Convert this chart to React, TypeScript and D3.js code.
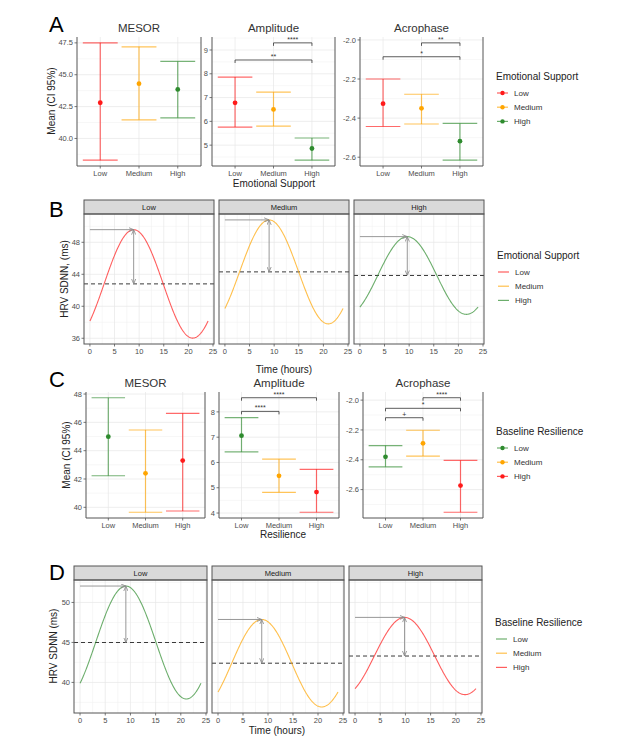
import * as d3 from 'd3'

const FONT = '"Liberation Sans", Arial, sans-serif'

const groups = ['Low', 'Medium', 'High']
const supportColors = ['#ff1a1a', '#ffa500', '#2e8b2e']
const resilienceColors = ['#2e8b2e', '#ffa500', '#ff1a1a']

// A: emotional support, cosinor estimates with 95% CI
const supMesor = [42.8, 44.3, 43.85]
const supMesorLo = [38.3, 41.46, 41.62]
const supMesorHi = [47.5, 47.19, 46.04]
const supAmp = [6.78, 6.5, 4.86]
const supAmpLo = [5.76, 5.8, 4.37]
const supAmpHi = [7.86, 7.23, 5.3]
const supAcro = [-2.326, -2.35, -2.518]
const supAcroLo = [-2.443, -2.43, -2.615]
const supAcroHi = [-2.2, -2.278, -2.427]
const supAmpSig = [
  { from: 'Medium', to: 'High', y: 9.3, label: '****' },
  { from: 'Low', to: 'High', y: 8.58, label: '**' },
]
const supAcroSig = [
  { from: 'Medium', to: 'High', y: -2.015, label: '**' },
  { from: 'Low', to: 'High', y: -2.086, label: '*' },
]

// C: baseline resilience
const resMesor = [44.99, 42.4, 43.3]
const resMesorLo = [42.23, 39.65, 39.74]
const resMesorHi = [47.74, 45.46, 46.64]
const resAmp = [7.06, 5.47, 4.83]
const resAmpLo = [6.42, 4.82, 4.03]
const resAmpHi = [7.77, 6.13, 5.73]
const resAcro = [-2.38, -2.29, -2.573]
const resAcroLo = [-2.447, -2.375, -2.752]
const resAcroHi = [-2.305, -2.202, -2.404]
const resAmpSig = [
  { from: 'Low', to: 'High', y: 8.56, label: '****' },
  { from: 'Low', to: 'Medium', y: 8.02, label: '****' },
]
const resAcroSig = [
  { from: 'Medium', to: 'High', y: -1.984, label: '****' },
  { from: 'Low', to: 'High', y: -2.055, label: '*' },
  { from: 'Low', to: 'Medium', y: -2.118, label: '+' },
]

const mesorTicksA = [40, 42.5, 45, 47.5]
const ampTicksA = [5, 6, 7, 8, 9]
const acroTicks = [-2.6, -2.4, -2.2, -2.0]
const mesorTicksC = [40, 42, 44, 46, 48]
const ampTicksC = [4, 5, 6, 7, 8]
const hourTicks = [0, 5, 10, 15, 20, 25]
const hrvTicksB = [36, 40, 44, 48]
const hrvTicksD = [40, 45, 50]
// time grid on which the fitted cosinor (mesor + amp * cos(2*pi*t/24 + acrophase)) is drawn
const hours = d3.range(0, 24.001, 0.1)

const AXIS = '#555'
const TICKTXT = '#4d4d4d'
const GRID = '#e6e6e6'
const GRID_MINOR = '#f2f2f2'

function minorBreaks(ticks: number[], dom: number[]) {
  const step = ticks[1] - ticks[0]
  const out: number[] = []
  for (let i = -1; i < ticks.length; i++) {
    const v = ticks[0] + step * (i + 0.5)
    if (v > Math.min(dom[0], dom[1]) && v < Math.max(dom[0], dom[1])) out.push(v)
  }
  return out
}

interface Sig { from: string; to: string; y: number; label: string }

function ErrorPanel({ x0, x1, top, bottom, title, mean, lo, hi, colors, ticks, digits, sig }: {
  x0: number; x1: number; top: number; bottom: number; title: string
  mean: number[]; lo: number[]; hi: number[]; colors: string[]; ticks: number[]; digits: number; sig: Sig[]
}) {
  const [mn, mx] = d3.extent([...lo, ...hi, ...sig.map(s => s.y)]) as [number, number]
  const pad = (mx - mn) * 0.05
  const y = d3.scaleLinear().domain([mn - pad, mx + pad]).range([bottom, top])
  const x = d3.scalePoint<string>().domain(groups).range([x0, x1]).padding(0.6)
  const half = x.step() * 0.45
  const minor = minorBreaks(ticks, y.domain())

  return (
    <g>
      {minor.map(v => (
        <line key={'m' + v} x1={x0} x2={x1} y1={y(v)} y2={y(v)} stroke={GRID_MINOR} strokeWidth={0.6} />
      ))}
      {ticks.map(v => (
        <line key={'g' + v} x1={x0} x2={x1} y1={y(v)} y2={y(v)} stroke={GRID} strokeWidth={0.7} />
      ))}
      {groups.map(g => (
        <line key={'v' + g} x1={x(g)} x2={x(g)} y1={top} y2={bottom} stroke={GRID} strokeWidth={0.7} />
      ))}
      <path d={`M${x0},${top}V${bottom}H${x1}V${top}`} fill="none" stroke={AXIS} strokeWidth={1} />
      {ticks.map(v => (
        <g key={'t' + v}>
          <line x1={x0 - 2.5} x2={x0} y1={y(v)} y2={y(v)} stroke={AXIS} strokeWidth={0.8} />
          <text x={x0 - 4} y={y(v)} dy="0.35em" textAnchor="end" fontSize={7.5} fill={TICKTXT}>
            {v.toFixed(digits)}
          </text>
        </g>
      ))}
      {groups.map(g => (
        <g key={'x' + g}>
          <line x1={x(g)} x2={x(g)} y1={bottom} y2={bottom + 2.5} stroke={AXIS} strokeWidth={0.8} />
          <text x={x(g)} y={bottom + 7} dy="0.35em" textAnchor="middle" fontSize={7.5} fill={TICKTXT}>{g}</text>
        </g>
      ))}
      {groups.map((g, i) => {
        const cx = x(g) as number
        return (
          <g key={'e' + g}>
            <g stroke={colors[i]} strokeOpacity={0.65} strokeWidth={1.2}>
              <line x1={cx} x2={cx} y1={y(lo[i])} y2={y(hi[i])} />
              <line x1={cx - half} x2={cx + half} y1={y(lo[i])} y2={y(lo[i])} />
              <line x1={cx - half} x2={cx + half} y1={y(hi[i])} y2={y(hi[i])} />
            </g>
            <circle cx={cx} cy={y(mean[i])} r={2.4} fill={colors[i]} />
          </g>
        )
      })}
      {sig.map(s => {
        const a = x(s.from) as number
        const b = x(s.to) as number
        const yy = y(s.y)
        return (
          <g key={s.from + s.to}>
            <path d={`M${a},${yy + 3}V${yy}H${b}V${yy + 3}`} fill="none" stroke="#333" strokeWidth={0.8} />
            <text x={(a + b) / 2} y={yy - 1} textAnchor="middle" fontSize={7} fill="#333">{s.label}</text>
          </g>
        )
      })}
      <text x={(x0 + x1) / 2} y={top - 5} textAnchor="middle" fontSize={11.5} fill="#333">{title}</text>
    </g>
  )
}

function CurveRow({ facets, stripTop, stripBottom, bottom, mesor, amp, acro, colors, yTicks }: {
  facets: [number, number][]; stripTop: number; stripBottom: number; bottom: number
  mesor: number[]; amp: number[]; acro: number[]; colors: string[]; yTicks: number[]
}) {
  const curves = groups.map((_, i) =>
    hours.map(t => [t, mesor[i] + amp[i] * Math.cos((2 * Math.PI * t) / 24 + acro[i])] as [number, number]))
  const [mn, mx] = d3.extent(curves.flat().map(d => d[1])) as [number, number]
  const pad = (mx - mn) * 0.05
  const y = d3.scaleLinear().domain([mn - pad, mx + pad]).range([bottom, stripBottom])
  const [h0, h1] = d3.extent(hours) as [number, number]
  const hp = (h1 - h0) * 0.05
  const minorY = minorBreaks(yTicks, y.domain())

  return (
    <g>
      {facets.map(([x0, x1], i) => {
        const x = d3.scaleLinear().domain([h0 - hp, h1 + hp]).range([x0, x1])
        const minorX = minorBreaks(hourTicks, x.domain())
        const line = d3.line<[number, number]>().x(d => x(d[0])).y(d => y(d[1]))
        const tp = (-acro[i] * 24) / (2 * Math.PI)
        const peak = mesor[i] + amp[i]
        return (
          <g key={groups[i]}>
            {minorY.map(v => (
              <line key={'my' + v} x1={x0} x2={x1} y1={y(v)} y2={y(v)} stroke={GRID_MINOR} strokeWidth={0.6} />
            ))}
            {minorX.map(v => (
              <line key={'mx' + v} x1={x(v)} x2={x(v)} y1={stripBottom} y2={bottom} stroke={GRID_MINOR} strokeWidth={0.6} />
            ))}
            {yTicks.map(v => (
              <line key={'gy' + v} x1={x0} x2={x1} y1={y(v)} y2={y(v)} stroke={GRID} strokeWidth={0.7} />
            ))}
            {hourTicks.map(v => (
              <line key={'gx' + v} x1={x(v)} x2={x(v)} y1={stripBottom} y2={bottom} stroke={GRID} strokeWidth={0.7} />
            ))}
            <line x1={x0} x2={x1} y1={y(mesor[i])} y2={y(mesor[i])} stroke="#3a3a3a" strokeWidth={1} strokeDasharray="4,3" />
            <path d={line(curves[i]) || ''} fill="none" stroke={colors[i]} strokeOpacity={0.7} strokeWidth={1.1} />
            <g stroke="#8c8c8c" strokeWidth={0.9}>
              <line x1={x(0)} x2={x(tp)} y1={y(peak)} y2={y(peak)} markerEnd="url(#arr)" />
              <line x1={x(tp)} x2={x(tp)} y1={y(peak)} y2={y(mesor[i])} markerStart="url(#arr)" markerEnd="url(#arr)" />
            </g>
            <rect x={x0} y={stripTop} width={x1 - x0} height={stripBottom - stripTop} fill="#d9d9d9" stroke={AXIS} strokeWidth={1} />
            <rect x={x0} y={stripBottom} width={x1 - x0} height={bottom - stripBottom} fill="none" stroke={AXIS} strokeWidth={1} />
            <text x={(x0 + x1) / 2} y={(stripTop + stripBottom) / 2} dy="0.35em" textAnchor="middle" fontSize={7.5} fill="#1a1a1a">
              {groups[i]}
            </text>
            {hourTicks.map(v => (
              <g key={'xt' + v}>
                <line x1={x(v)} x2={x(v)} y1={bottom} y2={bottom + 2.5} stroke={AXIS} strokeWidth={0.8} />
                <text x={x(v)} y={bottom + 7} dy="0.35em" textAnchor="middle" fontSize={7.5} fill={TICKTXT}>{v}</text>
              </g>
            ))}
            {i === 0 && yTicks.map(v => (
              <g key={'yt' + v}>
                <line x1={x0 - 2.5} x2={x0} y1={y(v)} y2={y(v)} stroke={AXIS} strokeWidth={0.8} />
                <text x={x0 - 4} y={y(v)} dy="0.35em" textAnchor="end" fontSize={7.5} fill={TICKTXT}>{v}</text>
              </g>
            ))}
          </g>
        )
      })}
    </g>
  )
}

function Legend({ x, baseline, title, colors, withPoint }: {
  x: number; baseline: number; title: string; colors: string[]; withPoint: boolean
}) {
  return (
    <g>
      <text x={x} y={baseline} fontSize={10} fill="#222">{title}</text>
      {groups.map((g, i) => {
        const yy = baseline + 13 + i * 14.2
        return (
          <g key={g}>
            <line x1={x + 1} x2={x + 12} y1={yy} y2={yy} stroke={colors[i]} strokeOpacity={0.7} strokeWidth={1.2} />
            {withPoint && <circle cx={x + 6.5} cy={yy} r={2.2} fill={colors[i]} />}
            <text x={x + 18} y={yy} dy="0.35em" fontSize={8} fill="#333">{g}</text>
          </g>
        )
      })}
    </g>
  )
}

function YTitle({ x, y, text }: { x: number; y: number; text: string }) {
  return (
    <text transform={`translate(${x},${y}) rotate(-90)`} textAnchor="middle" dy="0.35em" fontSize={10} fill="#222">
      {text}
    </text>
  )
}

export default function App() {
  return (
    <svg width={617} height={740} style={{ position: 'absolute', left: 0, top: 0, background: '#fff' }} fontFamily={FONT}>
      <defs>
        <marker id="arr" viewBox="0 0 6 6" refX={6} refY={3} markerWidth={5} markerHeight={5}
          orient="auto-start-reverse" markerUnits="userSpaceOnUse">
          <path d="M0,0.5L6,3L0,5.5" fill="none" stroke="#8c8c8c" strokeWidth={1} />
        </marker>
      </defs>

      {/* A */}
      <text x={49} y={32} fontSize={22} fill="#000">A</text>
      <ErrorPanel x0={77} x1={201} top={37} bottom={166} title="MESOR" mean={supMesor} lo={supMesorLo}
        hi={supMesorHi} colors={supportColors} ticks={mesorTicksA} digits={1} sig={[]} />
      <ErrorPanel x0={212} x1={335} top={37} bottom={166} title="Amplitude" mean={supAmp} lo={supAmpLo}
        hi={supAmpHi} colors={supportColors} ticks={ampTicksA} digits={0} sig={supAmpSig} />
      <ErrorPanel x0={360} x1={483} top={37} bottom={166} title="Acrophase" mean={supAcro} lo={supAcroLo}
        hi={supAcroHi} colors={supportColors} ticks={acroTicks} digits={1} sig={supAcroSig} />
      <YTitle x={51} y={101} text="Mean (CI 95%)" />
      <text x={274} y={183} dy="0.35em" textAnchor="middle" fontSize={10} fill="#222">Emotional Support</text>
      <Legend x={496} baseline={80} title="Emotional Support" colors={supportColors} withPoint />

      {/* B */}
      <text x={49} y={217} fontSize={22} fill="#000">B</text>
      <CurveRow facets={[[84, 214], [219, 349], [354, 484]]} stripTop={200} stripBottom={214} bottom={344}
        mesor={supMesor} amp={supAmp} acro={supAcro} colors={supportColors} yTicks={hrvTicksB} />
      <YTitle x={64} y={279} text="HRV SDNN, (ms)" />
      <text x={284} y={369} dy="0.35em" textAnchor="middle" fontSize={10} fill="#222">Time (hours)</text>
      <Legend x={497} baseline={259} title="Emotional Support" colors={supportColors} withPoint={false} />

      {/* C */}
      <text x={49} y={387} fontSize={22} fill="#000">C</text>
      <ErrorPanel x0={86} x1={205} top={392} bottom={518} title="MESOR" mean={resMesor} lo={resMesorLo}
        hi={resMesorHi} colors={resilienceColors} ticks={mesorTicksC} digits={0} sig={[]} />
      <ErrorPanel x0={219} x1={339} top={392} bottom={518} title="Amplitude" mean={resAmp} lo={resAmpLo}
        hi={resAmpHi} colors={resilienceColors} ticks={ampTicksC} digits={0} sig={resAmpSig} />
      <ErrorPanel x0={363} x1={483} top={392} bottom={518} title="Acrophase" mean={resAcro} lo={resAcroLo}
        hi={resAcroHi} colors={resilienceColors} ticks={acroTicks} digits={1} sig={resAcroSig} />
      <YTitle x={66} y={455} text="Mean (CI 95%)" />
      <text x={283} y={534} dy="0.35em" textAnchor="middle" fontSize={10} fill="#222">Resilience</text>
      <Legend x={496} baseline={435} title="Baseline Resilience" colors={resilienceColors} withPoint />

      {/* D */}
      <text x={49} y={580} fontSize={22} fill="#000">D</text>
      <CurveRow facets={[[74, 207], [212, 344], [349, 482]]} stripTop={566} stripBottom={580} bottom={713}
        mesor={resMesor} amp={resAmp} acro={resAcro} colors={resilienceColors} yTicks={hrvTicksD} />
      <YTitle x={53} y={646} text="HRV SDNN (ms)" />
      <text x={277} y={730} dy="0.35em" textAnchor="middle" fontSize={10} fill="#222">Time (hours)</text>
      <Legend x={495} baseline={626} title="Baseline Resilience" colors={resilienceColors} withPoint={false} />
    </svg>
  )
}
